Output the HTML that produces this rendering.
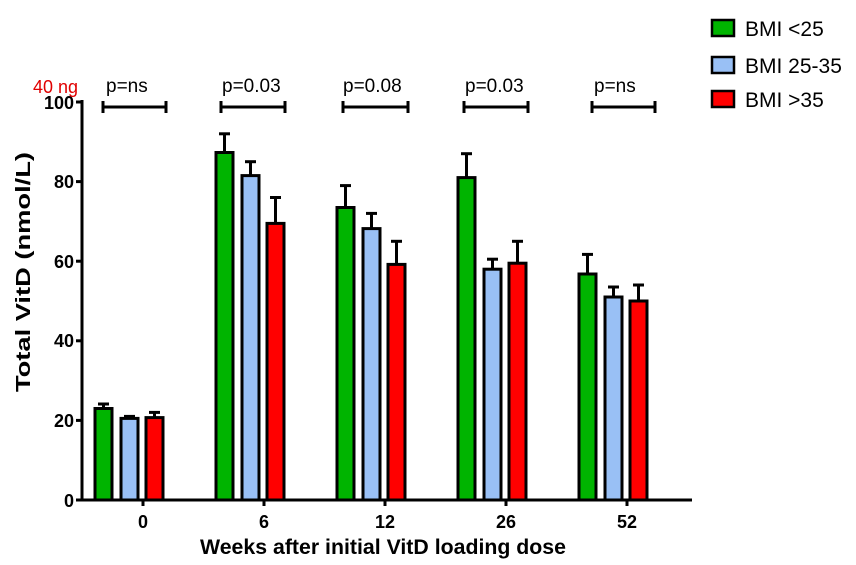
<!DOCTYPE html>
<html><head><style>body{margin:0;background:#fff}svg{display:block}</style></head><body>
<svg width="856" height="565" xmlns="http://www.w3.org/2000/svg" font-family="Liberation Sans, Arial, sans-serif">
<rect width="856" height="565" fill="#fff"/>
<g stroke="#000" stroke-width="3">
<line x1="82" y1="100" x2="82" y2="501"/>
<line x1="81" y1="500" x2="692" y2="500"/>
<line x1="76" y1="102" x2="82" y2="102"/>
<line x1="76" y1="181.6" x2="82" y2="181.6"/>
<line x1="76" y1="261.2" x2="82" y2="261.2"/>
<line x1="76" y1="340.8" x2="82" y2="340.8"/>
<line x1="76" y1="420.4" x2="82" y2="420.4"/>
<line x1="76" y1="500" x2="82" y2="500"/>
<line x1="143" y1="500" x2="143" y2="506"/>
<line x1="264" y1="500" x2="264" y2="506"/>
<line x1="385" y1="500" x2="385" y2="506"/>
<line x1="506" y1="500" x2="506" y2="506"/>
<line x1="627" y1="500" x2="627" y2="506"/>
</g>
<g font-size="18" font-weight="bold" text-anchor="end">
<text x="74" y="109">100</text><text x="74" y="188">80</text><text x="74" y="268">60</text><text x="74" y="347">40</text><text x="74" y="427">20</text><text x="74" y="507">0</text>
</g>
<g font-size="18" font-weight="bold" text-anchor="middle">
<text x="143" y="528">0</text><text x="264" y="528">6</text><text x="385" y="528">12</text><text x="506" y="528">26</text><text x="627" y="528">52</text>
<text x="383" y="554" font-size="21" textLength="366" lengthAdjust="spacingAndGlyphs">Weeks after initial VitD loading dose</text>
<text transform="translate(30,272) rotate(-90)" font-size="20" textLength="240" lengthAdjust="spacingAndGlyphs">Total VitD (nmol/L)</text>
</g>
<text x="33" y="93" font-size="18" fill="#e00000">40 ng</text>
<g stroke="#000" stroke-width="3">
<line x1="103.5" y1="404" x2="103.5" y2="408"/><line x1="98" y1="404" x2="109" y2="404"/>
<rect x="95" y="408.5" width="17" height="91.5" fill="#00b400"/>
<line x1="129.5" y1="416.4" x2="129.5" y2="418"/><line x1="124" y1="416.4" x2="135" y2="416.4"/>
<rect x="121" y="418.4" width="17" height="81.6" fill="#99c0f5"/>
<line x1="154.5" y1="412.4" x2="154.5" y2="417"/><line x1="149" y1="412.4" x2="160" y2="412.4"/>
<rect x="146" y="417.6" width="17" height="82.4" fill="#ff0000"/>

<line x1="224.5" y1="133.8" x2="224.5" y2="152"/><line x1="219" y1="133.8" x2="230" y2="133.8"/>
<rect x="216" y="152.5" width="17" height="347.5" fill="#00b400"/>
<line x1="250.5" y1="161.7" x2="250.5" y2="175"/><line x1="245" y1="161.7" x2="256" y2="161.7"/>
<rect x="242" y="175.6" width="17" height="324.4" fill="#99c0f5"/>
<line x1="275.5" y1="197.5" x2="275.5" y2="223"/><line x1="270" y1="197.5" x2="281" y2="197.5"/>
<rect x="267" y="223.4" width="17" height="276.6" fill="#ff0000"/>

<line x1="345.5" y1="185.6" x2="345.5" y2="207"/><line x1="340" y1="185.6" x2="351" y2="185.6"/>
<rect x="337" y="207.5" width="17" height="292.5" fill="#00b400"/>
<line x1="371.5" y1="213.4" x2="371.5" y2="228"/><line x1="366" y1="213.4" x2="377" y2="213.4"/>
<rect x="363" y="228.6" width="17" height="271.4" fill="#99c0f5"/>
<line x1="396.5" y1="241.3" x2="396.5" y2="264"/><line x1="391" y1="241.3" x2="402" y2="241.3"/>
<rect x="388" y="264.4" width="17" height="235.6" fill="#ff0000"/>

<line x1="466.5" y1="153.7" x2="466.5" y2="177"/><line x1="461" y1="153.7" x2="472" y2="153.7"/>
<rect x="458" y="177.6" width="17" height="322.4" fill="#00b400"/>
<line x1="492.5" y1="259.2" x2="492.5" y2="269"/><line x1="487" y1="259.2" x2="498" y2="259.2"/>
<rect x="484" y="269.2" width="17" height="230.8" fill="#99c0f5"/>
<line x1="517.5" y1="241.3" x2="517.5" y2="263"/><line x1="512" y1="241.3" x2="523" y2="241.3"/>
<rect x="509" y="263.2" width="17" height="236.8" fill="#ff0000"/>

<line x1="587.5" y1="254.4" x2="587.5" y2="274"/><line x1="582" y1="254.4" x2="593" y2="254.4"/>
<rect x="579" y="274" width="17" height="226" fill="#00b400"/>
<line x1="613.5" y1="287" x2="613.5" y2="297"/><line x1="608" y1="287" x2="619" y2="287"/>
<rect x="605" y="297" width="17" height="203" fill="#99c0f5"/>
<line x1="638.5" y1="285" x2="638.5" y2="301"/><line x1="633" y1="285" x2="644" y2="285"/>
<rect x="630" y="301" width="17" height="199" fill="#ff0000"/>

<line x1="103" y1="107" x2="166" y2="107"/><line x1="103" y1="101" x2="103" y2="113"/><line x1="166" y1="101" x2="166" y2="113"/>
<line x1="221" y1="107" x2="285" y2="107"/><line x1="221" y1="101" x2="221" y2="113"/><line x1="285" y1="101" x2="285" y2="113"/>
<line x1="343" y1="107" x2="408" y2="107"/><line x1="343" y1="101" x2="343" y2="113"/><line x1="408" y1="101" x2="408" y2="113"/>
<line x1="464" y1="107" x2="528" y2="107"/><line x1="464" y1="101" x2="464" y2="113"/><line x1="528" y1="101" x2="528" y2="113"/>
<line x1="592" y1="107" x2="655" y2="107"/><line x1="592" y1="101" x2="592" y2="113"/><line x1="655" y1="101" x2="655" y2="113"/>
</g>
<g font-size="19">
<text x="106" y="92">p=ns</text><text x="222" y="92">p=0.03</text><text x="343" y="92">p=0.08</text><text x="465" y="92">p=0.03</text><text x="594" y="92">p=ns</text>
</g>
<g stroke="#000" stroke-width="2.5">
<rect x="712" y="20" width="22" height="16" fill="#00b400"/>
<rect x="712" y="57" width="22" height="16" fill="#99c0f5"/>
<rect x="712" y="91" width="22" height="16" fill="#ff0000"/>
</g>
<g font-size="21">
<text x="745" y="36">BMI &lt;25</text><text x="745" y="73">BMI 25-35</text><text x="745" y="107">BMI &gt;35</text>
</g>
</svg>
</body></html>
